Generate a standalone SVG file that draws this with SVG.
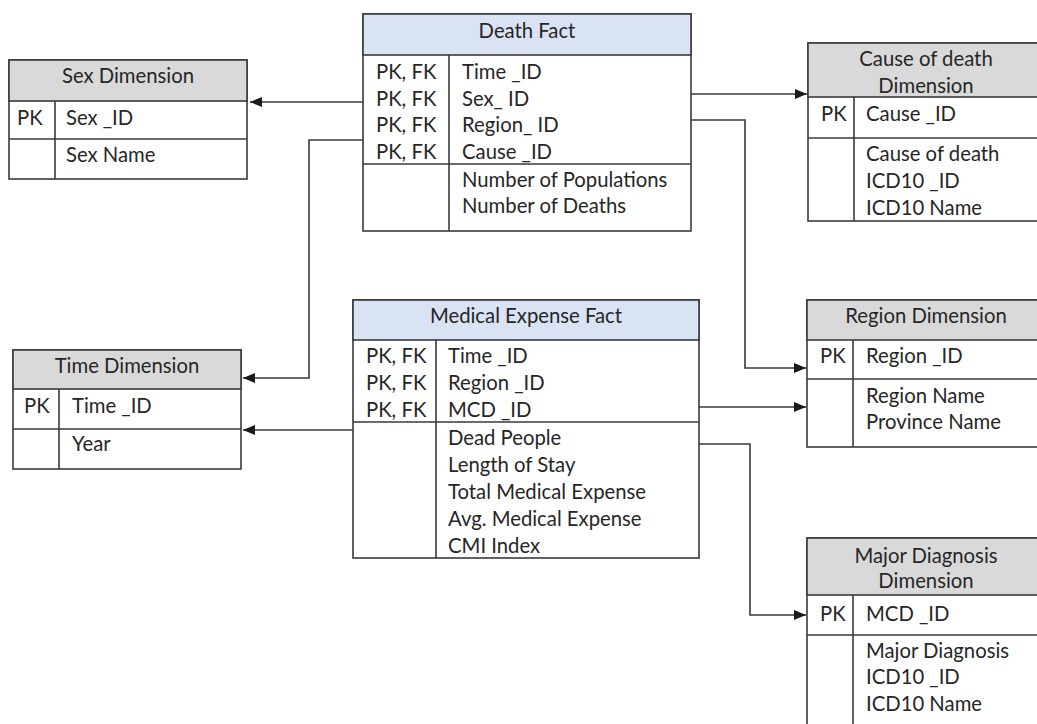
<svg xmlns="http://www.w3.org/2000/svg" width="1037" height="724" viewBox="0 0 1037 724">
  <style>
    .box { fill: #ffffff; stroke: #3a3a3a; stroke-width: 1.6; }
    .hdim { fill: #d9d9d9; stroke: #3a3a3a; stroke-width: 1.6; }
    .hfact { fill: #dae3f3; stroke: #3a3a3a; stroke-width: 1.6; }
    .sep { stroke: #3a3a3a; stroke-width: 1.6; fill: none; }
    text { font-family: Lato, "Liberation Sans", sans-serif; font-size: 20.3px; fill: #262626; }
    .c { text-anchor: middle; }
    .conn path { fill: none; stroke: #3a3a3a; stroke-width: 1.6; marker-end: url(#arrow); }
  </style>
  <defs>
    <marker id="arrow" markerUnits="userSpaceOnUse" markerWidth="14" markerHeight="12" refX="12" refY="5" orient="auto">
      <path d="M0,0 L12,5 L0,10 Z" fill="#1a1a1a"/>
    </marker>
  </defs>

  <rect width="1037" height="724" fill="#ffffff"/>

  <!-- Sex Dimension -->
  <g id="sex-dimension">
    <rect class="box" x="9" y="60" width="238" height="119"/>
    <rect class="hdim" x="9" y="60" width="238" height="41"/>
    <line class="sep" x1="9" y1="139" x2="247" y2="139"/>
    <line class="sep" x1="55" y1="101" x2="55" y2="179"/>
    <text class="c" x="128" y="83">Sex Dimension</text>
    <text x="17" y="125">PK</text>
    <text x="66" y="125">Sex _ID</text>
    <text x="66" y="162">Sex Name</text>
  </g>

  <!-- Death Fact -->
  <g id="death-fact">
    <rect class="box" x="363" y="14" width="328" height="217"/>
    <rect class="hfact" x="363" y="14" width="328" height="41"/>
    <line class="sep" x1="363" y1="164" x2="691" y2="164"/>
    <line class="sep" x1="449" y1="55" x2="449" y2="231"/>
    <text class="c" x="527" y="38">Death Fact</text>
    <text x="376" y="79">PK, FK</text>
    <text x="376" y="106">PK, FK</text>
    <text x="376" y="132">PK, FK</text>
    <text x="376" y="159">PK, FK</text>
    <text x="462" y="79">Time _ID</text>
    <text x="462" y="106">Sex_ ID</text>
    <text x="462" y="132">Region_ ID</text>
    <text x="462" y="159">Cause _ID</text>
    <text x="462" y="187">Number of Populations</text>
    <text x="462" y="213">Number of Deaths</text>
  </g>

  <!-- Cause of death Dimension -->
  <g id="cause-dimension">
    <rect class="box" x="808" y="43" width="236" height="178"/>
    <rect class="hdim" x="808" y="43" width="236" height="54"/>
    <line class="sep" x1="808" y1="138" x2="1044" y2="138"/>
    <line class="sep" x1="854" y1="97" x2="854" y2="221"/>
    <text class="c" x="926" y="66">Cause of death</text>
    <text class="c" x="926" y="93">Dimension</text>
    <text x="821" y="121">PK</text>
    <text x="866" y="121">Cause _ID</text>
    <text x="866" y="161">Cause of death</text>
    <text x="866" y="188">ICD10 _ID</text>
    <text x="866" y="215">ICD10 Name</text>
  </g>

  <!-- Time Dimension -->
  <g id="time-dimension">
    <rect class="box" x="13" y="350" width="228" height="119"/>
    <rect class="hdim" x="13" y="350" width="228" height="39"/>
    <line class="sep" x1="13" y1="429" x2="241" y2="429"/>
    <line class="sep" x1="59" y1="389" x2="59" y2="469"/>
    <text class="c" x="127" y="373">Time Dimension</text>
    <text x="24" y="413">PK</text>
    <text x="72" y="413">Time _ID</text>
    <text x="72" y="451">Year</text>
  </g>

  <!-- Medical Expense Fact -->
  <g id="medical-expense-fact">
    <rect class="box" x="353" y="300" width="346" height="258"/>
    <rect class="hfact" x="353" y="300" width="346" height="40"/>
    <line class="sep" x1="353" y1="422" x2="699" y2="422"/>
    <line class="sep" x1="436" y1="340" x2="436" y2="558"/>
    <text class="c" x="526" y="323">Medical Expense Fact</text>
    <text x="366" y="363">PK, FK</text>
    <text x="366" y="390">PK, FK</text>
    <text x="366" y="417">PK, FK</text>
    <text x="448" y="363">Time _ID</text>
    <text x="448" y="390">Region _ID</text>
    <text x="448" y="417">MCD _ID</text>
    <text x="448" y="445">Dead People</text>
    <text x="448" y="472">Length of Stay</text>
    <text x="448" y="499">Total Medical Expense</text>
    <text x="448" y="526">Avg. Medical Expense</text>
    <text x="448" y="553">CMI Index</text>
  </g>

  <!-- Region Dimension -->
  <g id="region-dimension">
    <rect class="box" x="807" y="300" width="237" height="147"/>
    <rect class="hdim" x="807" y="300" width="237" height="40"/>
    <line class="sep" x1="807" y1="379" x2="1044" y2="379"/>
    <line class="sep" x1="853" y1="340" x2="853" y2="447"/>
    <text class="c" x="926" y="323">Region Dimension</text>
    <text x="820" y="363">PK</text>
    <text x="866" y="363">Region _ID</text>
    <text x="866" y="403">Region Name</text>
    <text x="866" y="429">Province Name</text>
  </g>

  <!-- Major Diagnosis Dimension -->
  <g id="major-diagnosis-dimension">
    <rect class="box" x="807" y="538" width="237" height="200"/>
    <rect class="hdim" x="807" y="538" width="237" height="57"/>
    <line class="sep" x1="807" y1="635" x2="1044" y2="635"/>
    <line class="sep" x1="853" y1="595" x2="853" y2="730"/>
    <text class="c" x="926" y="563">Major Diagnosis</text>
    <text class="c" x="926" y="588">Dimension</text>
    <text x="820" y="621">PK</text>
    <text x="866" y="621">MCD _ID</text>
    <text x="866" y="658">Major Diagnosis</text>
    <text x="866" y="684">ICD10 _ID</text>
    <text x="866" y="711">ICD10 Name</text>
  </g>

  <!-- Connectors -->
  <g id="connectors" class="conn">
    <path d="M363,102 H250"/>
    <path d="M363,140 H309 V378 H243"/>
    <path d="M691,94 H807"/>
    <path d="M691,120 H745 V368 H806"/>
    <path d="M353,430 H243"/>
    <path d="M699,407 H806"/>
    <path d="M699,444 H750 V615 H806"/>
  </g>
</svg>
